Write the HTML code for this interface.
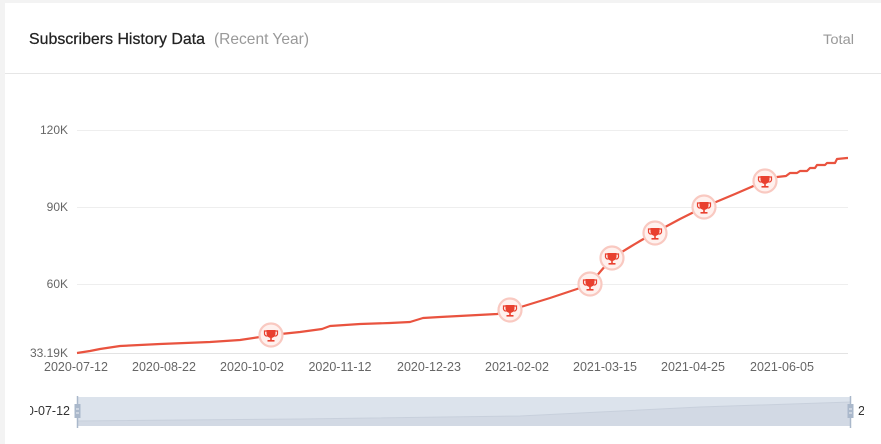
<!DOCTYPE html>
<html><head><meta charset="utf-8"><style>
html,body{margin:0;padding:0;background:#f3f3f3;width:881px;height:444px;overflow:hidden}
svg{display:block;font-family:"Liberation Sans",sans-serif}
</style></head><body>
<svg width="881" height="444" viewBox="0 0 881 444" xmlns="http://www.w3.org/2000/svg">
<defs>
<clipPath id="cl"><rect x="30" y="395" width="45" height="30"/></clipPath>
<clipPath id="cr"><rect x="855" y="395" width="9" height="30"/></clipPath>
<g id="tr">
<circle r="11.5" fill="#fff1ee" stroke="#f9c9c1" stroke-width="2.2"/>
<path d="M-4.5,-5 H4.5 V-1.5 A4.5,4.5 0 0 1 -4.5,-1.5 Z" fill="#e9402f"/>
<path d="M-4.5,-4 H-6.5 V-2 A2.5,2.5 0 0 0 -3.5,1 M4.5,-4 H6.5 V-2 A2.5,2.5 0 0 1 3.5,1" fill="none" stroke="#e9402f" stroke-width="1.2"/>
<rect x="-0.8" y="2.5" width="1.6" height="3" fill="#e9402f"/>
<rect x="-3.5" y="5" width="7" height="1.6" fill="#e9402f"/>
</g>
</defs>
<rect x="5" y="3" width="876" height="441" fill="#fff"/>
<line x1="5" y1="73.5" x2="881" y2="73.5" stroke="#e6e6e6" stroke-width="1"/>
<text x="29" y="44" font-size="16" fill="#222" stroke="#222" stroke-width="0.25" textLength="176" lengthAdjust="spacingAndGlyphs">Subscribers History Data</text>
<text x="214" y="44" font-size="16" fill="#999" textLength="95" lengthAdjust="spacingAndGlyphs">(Recent Year)</text>
<text x="823" y="44" font-size="13.5" fill="#999" textLength="31" lengthAdjust="spacingAndGlyphs">Total</text>

<g stroke="#eeeeee" stroke-width="1">
<line x1="77" y1="130.5" x2="848" y2="130.5"/>
<line x1="77" y1="207.5" x2="848" y2="207.5"/>
<line x1="77" y1="284.5" x2="848" y2="284.5"/>
</g>
<line x1="77" y1="353.5" x2="848" y2="353.5" stroke="#e3e3e3" stroke-width="1"/>
<g font-size="12" fill="#666" text-anchor="end">
<text x="68" y="134">120K</text>
<text x="68" y="211">90K</text>
<text x="68" y="288">60K</text>
<text x="68" y="357">33.19K</text>
</g>
<g font-size="12.5" fill="#666" text-anchor="middle">
<text x="76" y="371">2020-07-12</text>
<text x="164" y="371">2020-08-22</text>
<text x="252" y="371">2020-10-02</text>
<text x="340" y="371">2020-11-12</text>
<text x="429" y="371">2020-12-23</text>
<text x="517" y="371">2021-02-02</text>
<text x="605" y="371">2021-03-15</text>
<text x="693" y="371">2021-04-25</text>
<text x="782" y="371">2021-06-05</text>
</g>

<polyline fill="none" stroke="#e9533f" stroke-width="2.2" stroke-linejoin="round" points="77,353 90,351 100,349 120,346 160,344 210,342 240,340 260,337 271,335 300,332 322,329 330,326 345,325 360,324 390,323 410,322 423,318 440,317 497,314 505,312 511,310 550,298 580,288 590,284 600,272 612,258 630,247 640,241 654,233 680,219 704,207 735,194 765,181 777,177 786,176 790,173 797,173 800,171 807,171 810,168 815,168 817,165 825,165 827,163 835,163 837,159 847,158 848,158"/>

<use href="#tr" x="271" y="335"/>
<use href="#tr" x="510" y="310"/>
<use href="#tr" x="590" y="284"/>
<use href="#tr" x="612" y="258"/>
<use href="#tr" x="655" y="233"/>
<use href="#tr" x="704" y="207"/>
<use href="#tr" x="765" y="181"/>

<rect x="77" y="397" width="774" height="29" fill="#dce3ec"/>
<path d="M77,421 L300,419 L520,416 L600,412 L700,407 L851,402 L851,426 L77,426 Z" fill="#d2d9e4"/>
<path d="M77,421 L300,419 L520,416 L600,412 L700,407 L851,402" fill="none" stroke="#c8d0dc" stroke-width="1"/>
<line x1="77.5" y1="396" x2="77.5" y2="428" stroke="#aab8cb" stroke-width="1.5"/>
<line x1="850.5" y1="396" x2="850.5" y2="428" stroke="#aab8cb" stroke-width="1.5"/>
<rect x="74.5" y="404" width="6" height="14" fill="#aab8cb"/>
<rect x="847.5" y="404" width="6" height="14" fill="#aab8cb"/>
<g stroke="#fff" stroke-width="0.8"><line x1="76" y1="409" x2="79" y2="409"/><line x1="76" y1="413" x2="79" y2="413"/><line x1="849" y1="409" x2="852" y2="409"/><line x1="849" y1="413" x2="852" y2="413"/></g>
<g font-size="12.5" fill="#333">
<text x="70" y="415" text-anchor="end" clip-path="url(#cl)">2020-07-12</text>
<text x="858" y="415" clip-path="url(#cr)">2021-07-05</text>
</g>
</svg>
</body></html>
